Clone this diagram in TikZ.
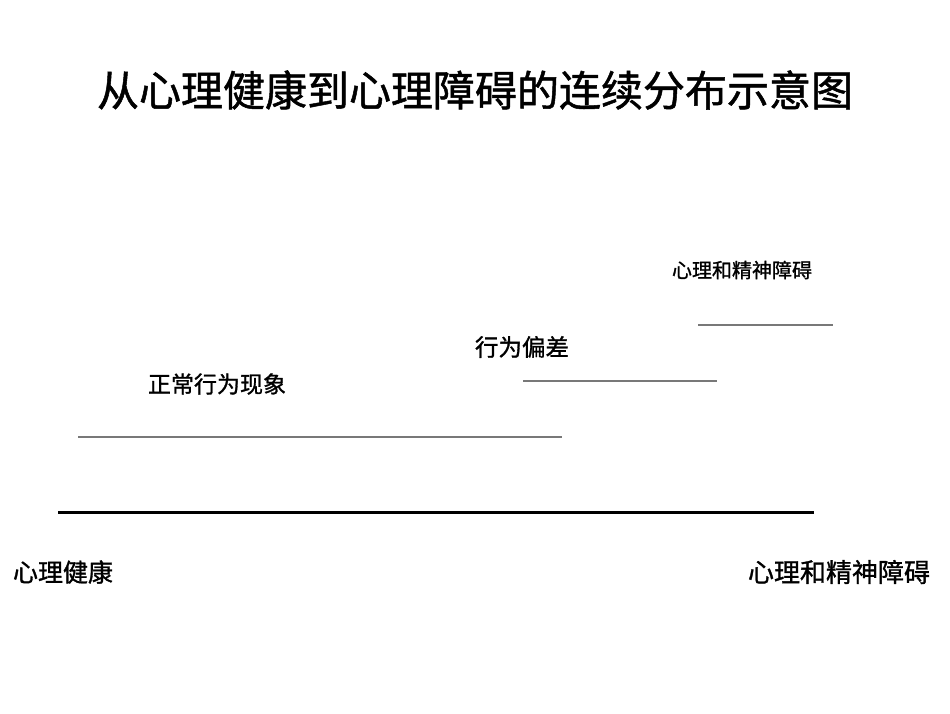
\documentclass[tikz,border=0pt]{standalone}
\usepackage{fontspec}
\newfontfamily\cjk[FakeBold=1.2]{Noto Sans CJK SC}
\definecolor{linegray}{RGB}{120,120,120}
\tikzstyle{grayline}=[draw=linegray,line width=1.4pt]
\tikzstyle{axisline}=[draw=black,line width=3pt]
\tikzstyle{label}=[inner sep=0pt,font=\cjk]

\begin{document}
\begin{tikzpicture}[x=1pt,y=-1pt]
    \useasboundingbox (0,0) rectangle (950,713);

    % Title
    \node[label,font=\cjk\fontsize{42}{48}\selectfont] (title) at (475,90) {从心理健康到心理障碍的连续分布示意图};

    % Steps with their labels
    \node[label,font=\cjk\fontsize{20}{24}\selectfont] (disorder) at (742,270) {心理和精神障碍};
    \draw[grayline] (698,325) -- (833,325);
    \node[label,font=\cjk\fontsize{23.5}{28}\selectfont] (deviate) at (522,347) {行为偏差};
    \draw[grayline] (523,381) -- (717,381);
    \node[label,font=\cjk\fontsize{23}{28}\selectfont] (normal) at (217,384) {正常行为现象};
    \draw[grayline] (78,437) -- (562,437);

    % Continuum line and its ends
    \draw[axisline] (58,512) -- (814,512);
    \node[label,font=\cjk\fontsize{25}{30}\selectfont] (healthy) at (63,572) {心理健康};
    \node[label,font=\cjk\fontsize{26}{30}\selectfont] (illness) at (839,572) {心理和精神障碍};
\end{tikzpicture}
\end{document}
